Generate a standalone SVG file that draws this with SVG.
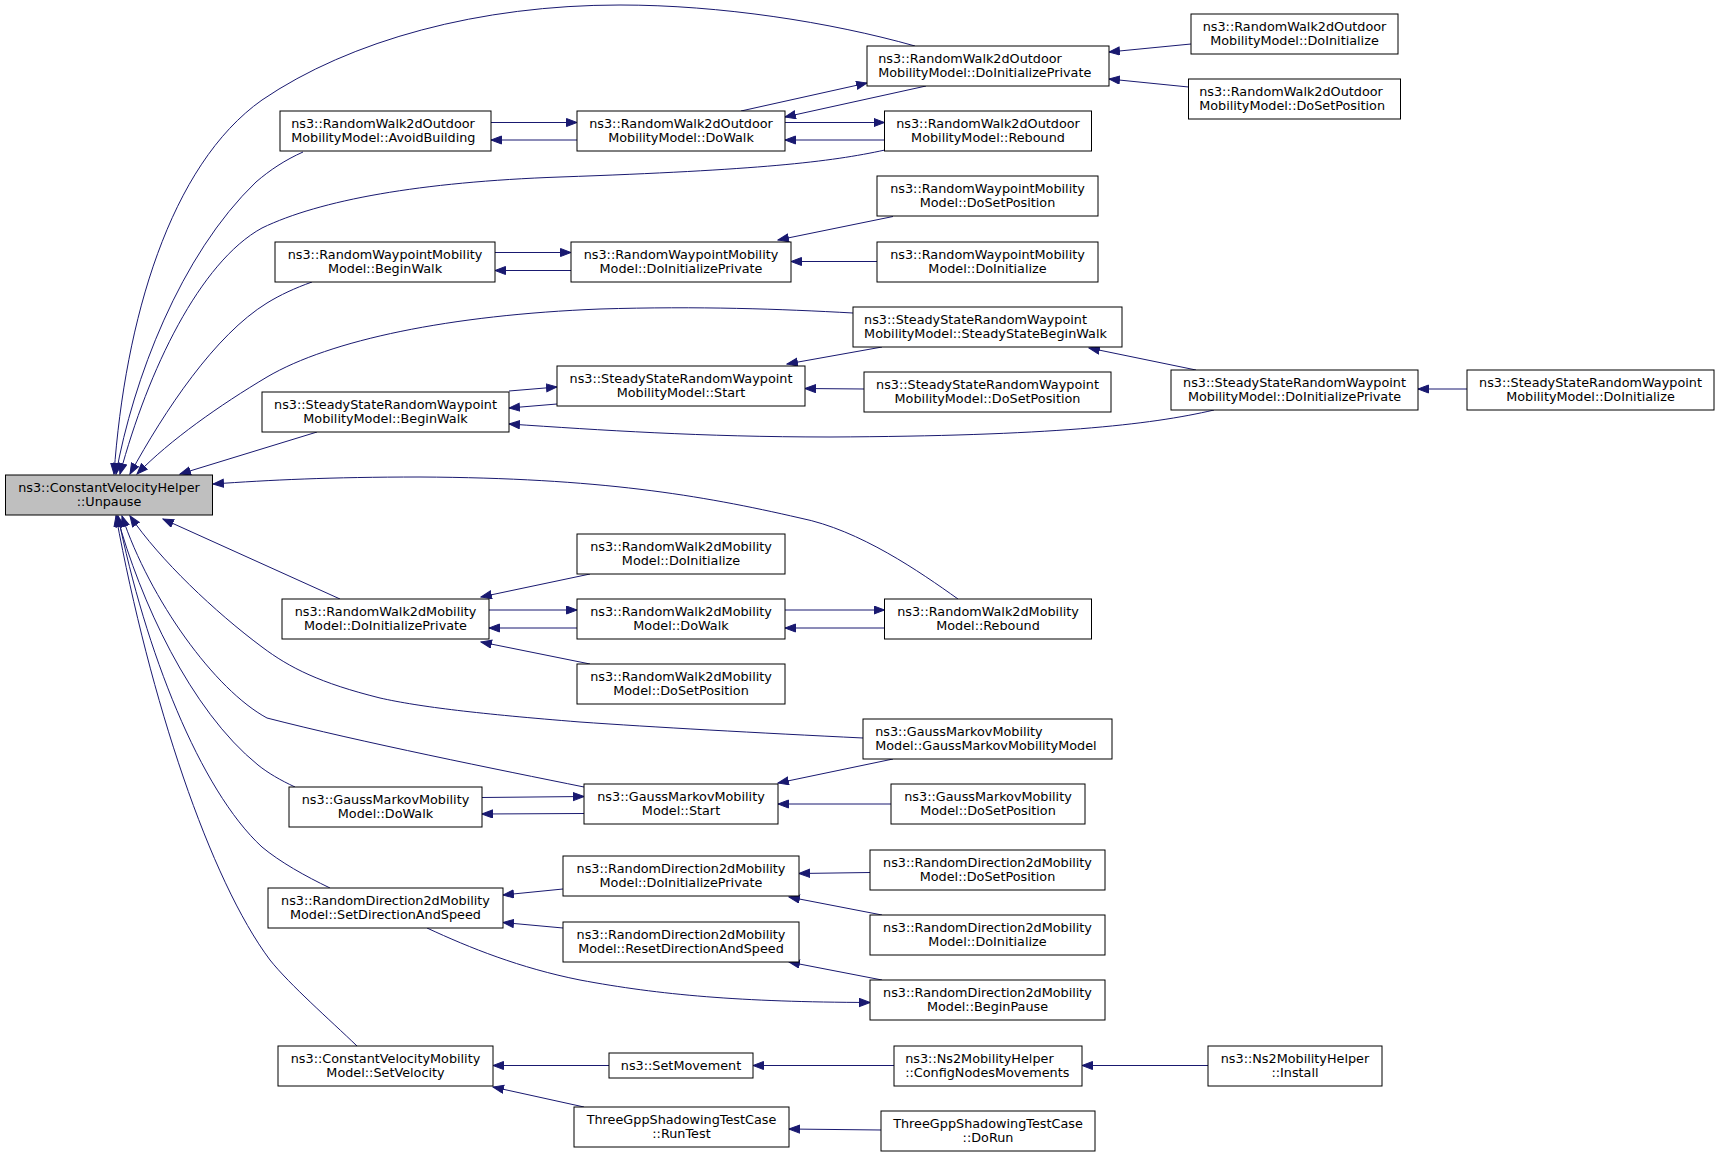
<svg xmlns="http://www.w3.org/2000/svg" width="1720" height="1156" viewBox="0 0 1720 1156">
<defs>
<style>
.node rect{fill:#ffffff;stroke:#000000;stroke-width:1}
.node.hl rect{fill:#bfbfbf}
.node text{font-family:"DejaVu Sans","Noto Sans",sans-serif;font-size:12.8px;fill:#000000}
.c{text-anchor:middle}
.s{text-anchor:start}
.edges path{fill:none;stroke:#191970;stroke-width:1;marker-end:url(#ah)}
</style>
<marker id="ah" markerWidth="12" markerHeight="10" refX="11" refY="4.5" orient="auto" markerUnits="userSpaceOnUse">
<path d="M0.5,0.5 L11,4.5 L0.5,8.5 z" fill="#191970" stroke="#191970" stroke-width="1"/>
</marker>
</defs>
<rect x="0" y="0" width="1720" height="1156" fill="#ffffff"/>

<g class="edges">
<path d="M915,46 C830,22 720,5 620,5 C480,5 350,40 262,100 C170,165 125,320 114,474"/>
<path d="M303,152 C285,160 270,170 256,182 C180,255 133,380 116,474"/>
<path d="M885,150 C830,162 760,170 560,177 C420,182 320,200 262,228 C200,262 148,370 120,474"/>
<path d="M312,282 C295,288 280,295 267,303 C215,335 165,410 130,474"/>
<path d="M853,313 C780,309 700,306 600,309 C450,315 330,340 267,377 C220,405 170,440 137,474"/>
<path d="M317,432 L180,474"/>
<path d="M958,599 C920,572 860,530 800,518 C700,495 600,478 420,477 C330,477 270,480 213,484"/>
<path d="M340,599 L163,519"/>
<path d="M863,738 C760,733 650,727 580,722 C480,714 420,707 380,698 C320,683 290,668 262,647 C215,612 160,560 130,516"/>
<path d="M584,787 C500,770 360,742 267,718 C215,690 150,600 122,516"/>
<path d="M295,787 C280,780 268,773 258,765 C190,710 140,600 117,516"/>
<path d="M330,888 C305,876 280,862 262,847 C200,790 145,650 118,516"/>
<path d="M357,1046 C330,1020 290,985 270,960 C210,880 150,700 116,516"/>
<path d="M491,122.5 L577,122.5"/>
<path d="M577,140 L491,140"/>
<path d="M741,111 L867,83"/>
<path d="M926,86 L785,117"/>
<path d="M785,122.5 L884.5,122.5"/>
<path d="M884.5,140 L785,140"/>
<path d="M1191,44 L1109,52"/>
<path d="M1188.5,87 L1109,79"/>
<path d="M495,252.5 L571,252.5"/>
<path d="M571,270.5 L495,270.5"/>
<path d="M893,216.5 L778,240"/>
<path d="M877,261.5 L791,261.5"/>
<path d="M509,391 L557,387"/>
<path d="M557,404 L509,408"/>
<path d="M882,347 L787,364"/>
<path d="M864,389 L805,388.5"/>
<path d="M1196,370 L1089,348"/>
<path d="M1214,410 C1150,425 1050,436 830,437 C700,437 600,430 509,424"/>
<path d="M1467,389 L1418,389"/>
<path d="M590,574 L481,597"/>
<path d="M489,610 L577,610"/>
<path d="M577,628 L489,628"/>
<path d="M590,664 L481,642"/>
<path d="M785,610 L884.5,610"/>
<path d="M884.5,628 L785,628"/>
<path d="M893,759 L778,783"/>
<path d="M482,797.5 L584,796.5"/>
<path d="M584,813.5 L482,814"/>
<path d="M891,804 L778,804"/>
<path d="M563,889 L503,895"/>
<path d="M563,928 L503,922.5"/>
<path d="M427,928 C470,948 520,968 580,980 C660,995 740,1002 870,1002.5"/>
<path d="M870,872.5 L799,873.5"/>
<path d="M882,915 L789,897"/>
<path d="M882,980 L789,962"/>
<path d="M609,1065.5 L493,1065.5"/>
<path d="M584,1107 L493,1087"/>
<path d="M894,1065.5 L753,1065.5"/>
<path d="M1208,1065.5 L1082,1065.5"/>
<path d="M881,1130 L789,1129"/>
</g>

<g id="n0" class="node hl"><rect x="5.5" y="475" width="207" height="40"/><text class="c" x="109" y="491.8">ns3::ConstantVelocityHelper</text><text class="c" x="109" y="506.2">::Unpause</text></g>
<g id="n1" class="node"><rect x="280" y="111" width="211" height="40"/><text class="s" x="291.2" y="127.8">ns3::RandomWalk2dOutdoor</text><text class="s" x="291.2" y="142.2">MobilityModel::AvoidBuilding</text></g>
<g id="n2" class="node"><rect x="275" y="242" width="220" height="40"/><text class="c" x="385" y="258.8">ns3::RandomWaypointMobility</text><text class="c" x="385" y="273.2">Model::BeginWalk</text></g>
<g id="n3" class="node"><rect x="262" y="392" width="247" height="40"/><text class="c" x="385.5" y="408.8">ns3::SteadyStateRandomWaypoint</text><text class="c" x="385.5" y="423.2">MobilityModel::BeginWalk</text></g>
<g id="n4" class="node"><rect x="282" y="599" width="207" height="40"/><text class="c" x="385.5" y="615.8">ns3::RandomWalk2dMobility</text><text class="c" x="385.5" y="630.2">Model::DoInitializePrivate</text></g>
<g id="n5" class="node"><rect x="289" y="787" width="193" height="40"/><text class="c" x="385.5" y="803.8">ns3::GaussMarkovMobility</text><text class="c" x="385.5" y="818.2">Model::DoWalk</text></g>
<g id="n6" class="node"><rect x="268" y="888" width="235" height="40"/><text class="c" x="385.5" y="904.8">ns3::RandomDirection2dMobility</text><text class="c" x="385.5" y="919.2">Model::SetDirectionAndSpeed</text></g>
<g id="n7" class="node"><rect x="278" y="1046" width="215" height="40"/><text class="c" x="385.5" y="1062.8">ns3::ConstantVelocityMobility</text><text class="c" x="385.5" y="1077.2">Model::SetVelocity</text></g>
<g id="n8" class="node"><rect x="577" y="111" width="208" height="40"/><text class="c" x="681" y="127.8">ns3::RandomWalk2dOutdoor</text><text class="c" x="681" y="142.2">MobilityModel::DoWalk</text></g>
<g id="n9" class="node"><rect x="571" y="242" width="220" height="40"/><text class="c" x="681" y="258.8">ns3::RandomWaypointMobility</text><text class="c" x="681" y="273.2">Model::DoInitializePrivate</text></g>
<g id="n10" class="node"><rect x="557" y="366" width="248" height="40"/><text class="c" x="681" y="382.8">ns3::SteadyStateRandomWaypoint</text><text class="c" x="681" y="397.2">MobilityModel::Start</text></g>
<g id="n11" class="node"><rect x="577" y="534" width="208" height="40"/><text class="c" x="681" y="550.8">ns3::RandomWalk2dMobility</text><text class="c" x="681" y="565.2">Model::DoInitialize</text></g>
<g id="n12" class="node"><rect x="577" y="599" width="208" height="40"/><text class="c" x="681" y="615.8">ns3::RandomWalk2dMobility</text><text class="c" x="681" y="630.2">Model::DoWalk</text></g>
<g id="n13" class="node"><rect x="577" y="664" width="208" height="40"/><text class="c" x="681" y="680.8">ns3::RandomWalk2dMobility</text><text class="c" x="681" y="695.2">Model::DoSetPosition</text></g>
<g id="n14" class="node"><rect x="584" y="784" width="194" height="40"/><text class="c" x="681" y="800.8">ns3::GaussMarkovMobility</text><text class="c" x="681" y="815.2">Model::Start</text></g>
<g id="n15" class="node"><rect x="563" y="856" width="236" height="40"/><text class="c" x="681" y="872.8">ns3::RandomDirection2dMobility</text><text class="c" x="681" y="887.2">Model::DoInitializePrivate</text></g>
<g id="n16" class="node"><rect x="563" y="922" width="236" height="40"/><text class="c" x="681" y="938.8">ns3::RandomDirection2dMobility</text><text class="c" x="681" y="953.2">Model::ResetDirectionAndSpeed</text></g>
<g id="n17" class="node"><rect x="609" y="1053" width="144" height="25"/><text class="c" x="681" y="1070">ns3::SetMovement</text></g>
<g id="n18" class="node"><rect x="574" y="1107" width="215" height="40"/><text class="c" x="681.5" y="1123.8">ThreeGppShadowingTestCase</text><text class="c" x="681.5" y="1138.2">::RunTest</text></g>
<g id="n19" class="node"><rect x="867" y="46" width="242" height="40"/><text class="s" x="878.2" y="62.8">ns3::RandomWalk2dOutdoor</text><text class="s" x="878.2" y="77.2">MobilityModel::DoInitializePrivate</text></g>
<g id="n20" class="node"><rect x="884.5" y="111" width="207" height="40"/><text class="c" x="988" y="127.8">ns3::RandomWalk2dOutdoor</text><text class="c" x="988" y="142.2">MobilityModel::Rebound</text></g>
<g id="n21" class="node"><rect x="877" y="176" width="221" height="40"/><text class="c" x="987.5" y="192.8">ns3::RandomWaypointMobility</text><text class="c" x="987.5" y="207.2">Model::DoSetPosition</text></g>
<g id="n22" class="node"><rect x="877" y="242" width="221" height="40"/><text class="c" x="987.5" y="258.8">ns3::RandomWaypointMobility</text><text class="c" x="987.5" y="273.2">Model::DoInitialize</text></g>
<g id="n23" class="node"><rect x="853" y="307" width="269" height="40"/><text class="s" x="864.1" y="323.8">ns3::SteadyStateRandomWaypoint</text><text class="s" x="864.1" y="338.2">MobilityModel::SteadyStateBeginWalk</text></g>
<g id="n24" class="node"><rect x="864" y="372" width="247" height="40"/><text class="c" x="987.5" y="388.8">ns3::SteadyStateRandomWaypoint</text><text class="c" x="987.5" y="403.2">MobilityModel::DoSetPosition</text></g>
<g id="n25" class="node"><rect x="884.5" y="599" width="207" height="40"/><text class="c" x="988" y="615.8">ns3::RandomWalk2dMobility</text><text class="c" x="988" y="630.2">Model::Rebound</text></g>
<g id="n26" class="node"><rect x="863" y="719" width="249" height="40"/><text class="s" x="875.2" y="735.8">ns3::GaussMarkovMobility</text><text class="s" x="875.2" y="750.2">Model::GaussMarkovMobilityModel</text></g>
<g id="n27" class="node"><rect x="891" y="784" width="194" height="40"/><text class="c" x="988" y="800.8">ns3::GaussMarkovMobility</text><text class="c" x="988" y="815.2">Model::DoSetPosition</text></g>
<g id="n28" class="node"><rect x="870" y="850" width="235" height="40"/><text class="c" x="987.5" y="866.8">ns3::RandomDirection2dMobility</text><text class="c" x="987.5" y="881.2">Model::DoSetPosition</text></g>
<g id="n29" class="node"><rect x="870" y="915" width="235" height="40"/><text class="c" x="987.5" y="931.8">ns3::RandomDirection2dMobility</text><text class="c" x="987.5" y="946.2">Model::DoInitialize</text></g>
<g id="n30" class="node"><rect x="870" y="980" width="235" height="40"/><text class="c" x="987.5" y="996.8">ns3::RandomDirection2dMobility</text><text class="c" x="987.5" y="1011.2">Model::BeginPause</text></g>
<g id="n31" class="node"><rect x="894" y="1046" width="188" height="40"/><text class="s" x="905.2" y="1062.8">ns3::Ns2MobilityHelper</text><text class="s" x="905.2" y="1077.2">::ConfigNodesMovements</text></g>
<g id="n32" class="node"><rect x="881" y="1111" width="214" height="40"/><text class="c" x="988" y="1127.8">ThreeGppShadowingTestCase</text><text class="c" x="988" y="1142.2">::DoRun</text></g>
<g id="n33" class="node"><rect x="1191" y="14" width="207" height="40"/><text class="c" x="1294.5" y="30.8">ns3::RandomWalk2dOutdoor</text><text class="c" x="1294.5" y="45.2">MobilityModel::DoInitialize</text></g>
<g id="n34" class="node"><rect x="1188.5" y="79" width="212" height="40"/><text class="s" x="1199.2" y="95.8">ns3::RandomWalk2dOutdoor</text><text class="s" x="1199.2" y="110.2">MobilityModel::DoSetPosition</text></g>
<g id="n35" class="node"><rect x="1171" y="370" width="247" height="40"/><text class="c" x="1294.5" y="386.8">ns3::SteadyStateRandomWaypoint</text><text class="c" x="1294.5" y="401.2">MobilityModel::DoInitializePrivate</text></g>
<g id="n36" class="node"><rect x="1208" y="1046" width="174" height="40"/><text class="c" x="1295" y="1062.8">ns3::Ns2MobilityHelper</text><text class="c" x="1295" y="1077.2">::Install</text></g>
<g id="n37" class="node"><rect x="1467" y="370" width="247" height="40"/><text class="c" x="1590.5" y="386.8">ns3::SteadyStateRandomWaypoint</text><text class="c" x="1590.5" y="401.2">MobilityModel::DoInitialize</text></g>
</svg>
